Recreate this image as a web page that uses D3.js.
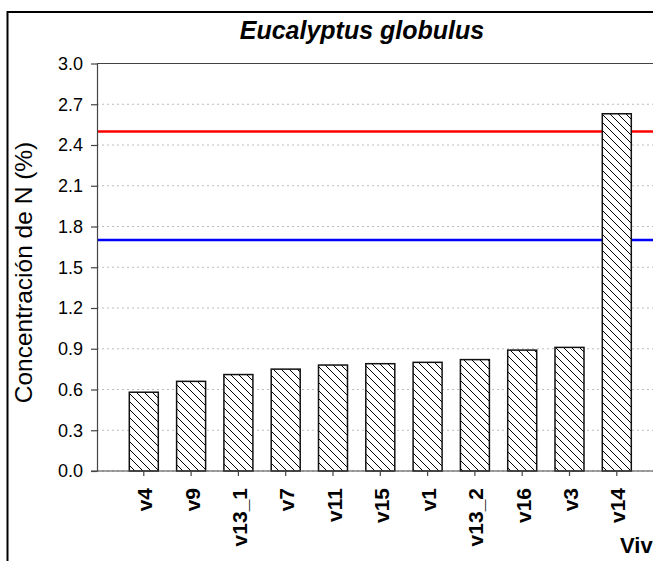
<!DOCTYPE html>
<html>
<head>
<meta charset="utf-8">
<script src="https://cdn.jsdelivr.net/npm/d3@7"></script>
<style>
  html, body { margin: 0; padding: 0; background: #fff; }
  svg { display: block; font-family: "Liberation Sans", Arial, sans-serif; }
</style>
</head>
<body>
<svg id="chart" width="653" height="561"></svg>
<script>
// ---- data ----
const categories = ["v4", "v9", "v13_1", "v7", "v11", "v15", "v1", "v13_2", "v16", "v3", "v14"];
const values = [0.58, 0.66, 0.71, 0.75, 0.78, 0.79, 0.80, 0.82, 0.89, 0.91, 2.63];
const yTicks = [0.0, 0.3, 0.6, 0.9, 1.2, 1.5, 1.8, 2.1, 2.4, 2.7, 3.0];
const refValues = [2.5, 1.7];
const refColors = ["#ff0000", "#0000ff"];
const titleText = "Eucalyptus globulus";
const yTitle = "Concentración de N (%)";
const xTitle = "Viv"; // visible part of the (cropped) x-axis title

// ---- layout ----
const W = 653, H = 561;
const plotLeft = 97, plotTop = 63.5, plotBottom = 471;
const svg = d3.select("#chart");

svg.append("rect").attr("width", W).attr("height", H).attr("fill", "#fff");

// outer frame (cropped on right/bottom)
svg.append("rect")
  .attr("x", 7.5).attr("y", 12).attr("width", 800).attr("height", 700)
  .attr("fill", "none").attr("stroke", "#000").attr("stroke-width", 2);

const y = d3.scaleLinear().domain([0, 3]).range([plotBottom, plotTop]);
const x = d3.scaleBand().domain(categories)
  .range([120.15, 640.45]).paddingInner(0.387).paddingOuter(0.1935);

// hatch pattern
const defs = svg.append("defs");
const pw = 8;
const pat = defs.append("pattern").attr("id", "hatch")
  .attr("patternUnits", "userSpaceOnUse").attr("width", pw).attr("height", pw);
pat.append("rect").attr("width", pw).attr("height", pw).attr("fill", "#fff");
pat.append("path")
  .attr("d", `M0,0 L${pw},${pw} M${-pw/2},${pw/2} L${pw/2},${pw*1.5} M${pw/2},${-pw/2} L${pw*1.5},${pw/2}`)
  .attr("stroke", "#000").attr("stroke-width", 1);

// gridlines
svg.append("g").selectAll("line").data(yTicks).join("line")
  .attr("x1", plotLeft).attr("x2", W)
  .attr("y1", d => y(d)).attr("y2", d => y(d))
  .attr("stroke", "#bdbdbd").attr("stroke-width", 1).attr("stroke-dasharray", "2,3");

// reference lines
svg.append("g").selectAll("line").data(refValues).join("line")
  .attr("x1", plotLeft).attr("x2", W)
  .attr("y1", d => y(d)).attr("y2", d => y(d))
  .attr("stroke", (d, i) => refColors[i]).attr("stroke-width", 2.5);

// bars
svg.append("g").selectAll("rect").data(values).join("rect")
  .attr("x", (d, i) => x(categories[i]))
  .attr("y", d => y(d))
  .attr("width", x.bandwidth())
  .attr("height", d => plotBottom - y(d))
  .attr("fill", "url(#hatch)")
  .attr("stroke", "#111").attr("stroke-width", 1.5);

// plot top border
svg.append("line").attr("x1", plotLeft).attr("x2", W)
  .attr("y1", plotTop).attr("y2", plotTop)
  .attr("stroke", "#444").attr("stroke-width", 1.2);

// y axis
const yAxis = svg.append("g").attr("transform", `translate(${plotLeft},0)`)
  .call(d3.axisLeft(y).tickValues(yTicks).tickFormat(d3.format(".1f"))
    .tickSize(6).tickSizeOuter(0).tickPadding(8));
yAxis.select(".domain").attr("stroke", "#444").attr("stroke-width", 1.2);
yAxis.selectAll(".tick line").attr("stroke", "#444").attr("stroke-width", 1.2);
yAxis.selectAll(".tick text").attr("font-size", 18).attr("fill", "#000")
  .attr("font-family", "'Liberation Sans', Arial, sans-serif");

// x axis
const xAxis = svg.append("g").attr("transform", `translate(0,${plotBottom})`)
  .call(d3.axisBottom(x).tickSize(5).tickSizeOuter(0).tickFormat(""));
xAxis.select(".domain").remove();
xAxis.selectAll(".tick line").attr("stroke", "#444").attr("stroke-width", 1.2);
svg.append("line").attr("x1", plotLeft - 6).attr("x2", W)
  .attr("y1", plotBottom).attr("y2", plotBottom)
  .attr("stroke", "#444").attr("stroke-width", 1.2);

// x labels (rotated)
svg.append("g").selectAll("text").data(categories).join("text")
  .attr("transform", d => `translate(${x(d) + x.bandwidth() / 2 + 8.5},488) rotate(-90)`)
  .attr("text-anchor", "end")
  .attr("font-size", 21).attr("font-weight", "bold").attr("fill", "#000")
  .text(d => d);

// title
svg.append("text")
  .attr("x", 362).attr("y", 39)
  .attr("text-anchor", "middle")
  .attr("font-size", 25).attr("font-weight", "bold").attr("font-style", "italic")
  .text(titleText);

// y title
svg.append("text")
  .attr("transform", "translate(32,272.5) rotate(-90)")
  .attr("text-anchor", "middle")
  .attr("font-size", 24.5)
  .text(yTitle);

// x title (cropped in the reference: only "Viv" is visible)
svg.append("text")
  .attr("x", 620).attr("y", 553)
  .attr("font-size", 22).attr("font-weight", "bold")
  .text(xTitle);
</script>
</body>
</html>
